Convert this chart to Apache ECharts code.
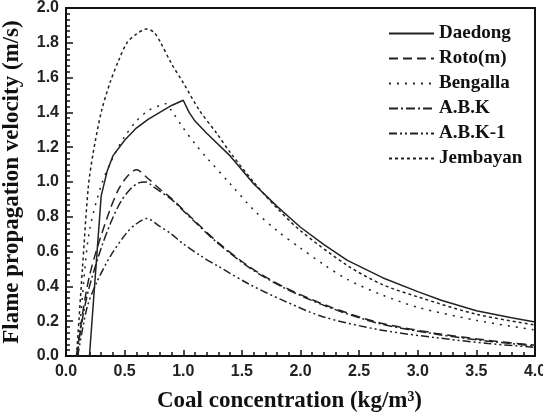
<!DOCTYPE html>
<html>
<head>
<meta charset="utf-8">
<script src="https://cdn.jsdelivr.net/npm/echarts@6/dist/echarts.min.js"></script>
<style>
  html, body { margin: 0; padding: 0; background: #fff; }
  #chart { width: 543px; height: 413px; }
</style>
</head>
<body>
<div id="chart"></div>
<script>
// values
const daedongX = [0.2, 0.3, 0.35, 0.4, 0.5, 0.6, 0.7, 0.8, 0.9, 1.0, 1.05, 1.1, 1.2, 1.4, 1.6, 1.8, 2.0, 2.2, 2.4, 2.7, 3.0, 3.2, 3.5, 3.8, 4.0]
const daedongY = [0, 0.92, 1.06, 1.15, 1.24, 1.31, 1.36, 1.40, 1.44, 1.47, 1.40, 1.35, 1.28, 1.15, 0.99, 0.86, 0.74, 0.64, 0.55, 0.45, 0.37, 0.32, 0.26, 0.22, 0.195]

const rotoX = [0.09, 0.15, 0.2, 0.27, 0.375, 0.45, 0.52, 0.6, 0.7, 0.8, 0.9, 1.0, 1.1, 1.3, 1.57, 1.85, 2.25, 2.68, 3.16, 3.6, 4.0]
const rotoY = [0, 0.28, 0.46, 0.63, 0.84, 0.96, 1.03, 1.07, 1.02, 0.96, 0.905, 0.84, 0.775, 0.65, 0.51, 0.40, 0.283, 0.19, 0.13, 0.09, 0.062]

const bengallaX = [0.1, 0.15, 0.2, 0.3, 0.4, 0.5, 0.6, 0.7, 0.8, 0.85, 0.9, 1.0, 1.1, 1.2, 1.4, 1.6, 1.8, 2.0, 2.2, 2.4, 2.7, 3.0, 3.5, 4.0]
const bengallaY = [0, 0.42, 0.72, 0.98, 1.14, 1.26, 1.35, 1.41, 1.44, 1.45, 1.41, 1.31, 1.22, 1.14, 0.99, 0.84, 0.72, 0.62, 0.525, 0.44, 0.35, 0.28, 0.205, 0.15]

const abkX = [0.09, 0.15, 0.2, 0.3, 0.39, 0.47, 0.55, 0.62, 0.68, 0.75, 0.9, 1.0, 1.1, 1.3, 1.57, 1.85, 2.25, 2.68, 3.16, 3.6, 4.0]
const abkY = [0, 0.25, 0.40, 0.62, 0.78, 0.89, 0.96, 0.995, 1.0, 0.97, 0.9, 0.835, 0.77, 0.645, 0.505, 0.395, 0.278, 0.185, 0.125, 0.085, 0.058]

const abk1X = [0.1, 0.18, 0.26, 0.375, 0.52, 0.6, 0.69, 0.8, 0.89, 1.0, 1.15, 1.3, 1.57, 1.85, 2.19, 2.68, 3.16, 3.6, 4.0]
const abk1Y = [0, 0.28, 0.42, 0.57, 0.71, 0.76, 0.79, 0.745, 0.705, 0.645, 0.575, 0.515, 0.41, 0.32, 0.226, 0.15, 0.105, 0.072, 0.05]

const jembayanX = [0.09, 0.14, 0.19, 0.23, 0.3, 0.375, 0.45, 0.52, 0.6, 0.69, 0.75, 0.8, 0.9, 1.0, 1.14, 1.285, 1.4, 1.6, 1.8, 2.0, 2.4, 2.7, 3.0, 3.5, 4.0]
const jembayanY = [0, 0.5, 0.97, 1.16, 1.40, 1.57, 1.70, 1.80, 1.85, 1.88, 1.86, 1.81, 1.68, 1.57, 1.41, 1.28, 1.17, 1.0, 0.85, 0.72, 0.52, 0.41, 0.34, 0.24, 0.178]

const names = ['Daedong', 'Roto(m)', 'Bengalla', 'A.B.K', 'A.B.K-1', 'Jembayan']

const pairs = (xs, ys) => xs.map((x, i) => [x, ys[i]])

const lineColor = '#222'
const serif = '"Liberation Serif", "Times New Roman", serif'
const sans = '"Liberation Sans", Arial, sans-serif'

function makeSeries (name, xs, ys, dash, smooth) {
  return {
    name: name,
    type: 'line',
    data: pairs(xs, ys),
    showSymbol: false,
    symbol: 'none',
    smooth: smooth,
    lineStyle: { color: lineColor, width: 1.5, type: dash },
    itemStyle: { color: lineColor },
    z: 3
  }
}

const chart = echarts.init(document.getElementById('chart'))
chart.setOption({
  animation: false,
  backgroundColor: '#fff',
  grid: {
    left: 66,
    right: 8,
    top: 8,
    bottom: 57,
    outerBoundsMode: 'none',
    containLabel: false,
    show: true,
    borderColor: '#111',
    borderWidth: 2
  },
  legend: {
    orient: 'vertical',
    left: 383,
    top: 19,
    itemWidth: 45,
    itemHeight: 14,
    itemGap: 6,
    data: names,
    itemStyle: { opacity: 0 },
    textStyle: {
      fontFamily: serif,
      fontWeight: 'bold',
      fontSize: 19,
      color: '#111'
    }
  },
  xAxis: {
    type: 'value',
    min: 0,
    max: 4,
    interval: 0.5,
    name: 'Coal concentration (kg/m³)',
    nameLocation: 'middle',
    nameGap: 34,
    nameTextStyle: {
      fontFamily: serif,
      fontWeight: 'bold',
      fontSize: 23,
      color: '#111',
      padding: [0, 22, 0, 0]
    },
    axisLine: { show: true, onZero: false, lineStyle: { color: '#111', width: 2 } },
    axisTick: { show: true, inside: true, length: 6, lineStyle: { color: '#111', width: 1.5 } },
    minorTick: { show: true, splitNumber: 5, length: 4, lineStyle: { color: '#111', width: 1.5 } },
    axisLabel: {
      margin: 8,
      fontFamily: sans,
      fontWeight: 'bold',
      fontSize: 16,
      color: '#222',
      formatter: v => v.toFixed(1)
    },
    splitLine: { show: false }
  },
  yAxis: {
    type: 'value',
    min: 0,
    max: 2,
    interval: 0.2,
    name: 'Flame propagation velocity (m/s)',
    nameLocation: 'middle',
    nameGap: 42,
    nameTextStyle: {
      fontFamily: serif,
      fontWeight: 'bold',
      fontSize: 23,
      color: '#111'
    },
    axisLine: { show: true, onZero: false, lineStyle: { color: '#111', width: 2 } },
    axisTick: { show: true, inside: true, length: 7, lineStyle: { color: '#111', width: 1.5 } },
    minorTick: { show: true, splitNumber: 6, length: 4, lineStyle: { color: '#111', width: 1.5 } },
    axisLabel: {
      margin: 7,
      fontFamily: sans,
      fontWeight: 'bold',
      fontSize: 16,
      color: '#222',
      formatter: v => v.toFixed(1)
    },
    splitLine: { show: false }
  },
  series: [
    makeSeries(names[0], daedongX, daedongY, 'solid', false),
    makeSeries(names[1], rotoX, rotoY, [9, 5], 0.3),
    makeSeries(names[2], bengallaX, bengallaY, [2, 6], 0.3),
    makeSeries(names[3], abkX, abkY, [9, 3, 2, 3], 0.3),
    makeSeries(names[4], abk1X, abk1Y, [8, 3, 2, 3, 2, 3], 0.3),
    makeSeries(names[5], jembayanX, jembayanY, [3, 3], 0.3)
  ]
})
</script>
</body>
</html>
